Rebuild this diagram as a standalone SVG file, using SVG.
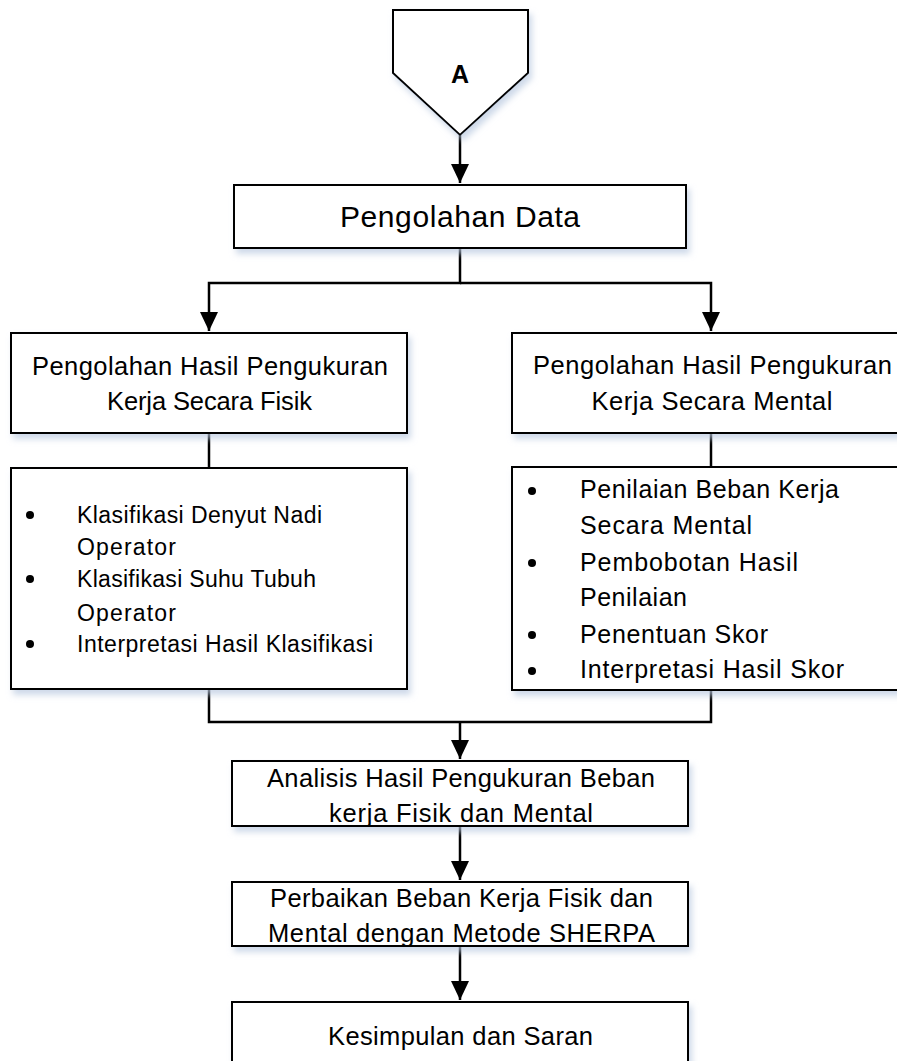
<svg xmlns="http://www.w3.org/2000/svg" width="897" height="1061" viewBox="0 0 897 1061">
<style>
.box{fill:#fff;stroke:#000;stroke-width:2;filter:url(#sh)}
.ln{fill:none;stroke:#000;stroke-width:2.5}
text{font-family:"Liberation Sans",Arial,sans-serif;fill:#000}
.h{font-size:25.5px;text-anchor:middle}
.l{font-size:23px}
.r{font-size:25px}
.t{font-size:25.5px;text-anchor:middle}
</style>
<defs>
<filter id="sh" x="-10%" y="-10%" width="125%" height="135%">
<feGaussianBlur in="SourceAlpha" stdDeviation="3"/>
<feOffset dx="3" dy="5" result="b"/>
<feFlood flood-color="#b9c9e0" flood-opacity="0.7"/>
<feComposite in2="b" operator="in"/>
<feMerge><feMergeNode/><feMergeNode in="SourceGraphic"/></feMerge>
</filter>
<marker id="ah" markerUnits="userSpaceOnUse" markerWidth="20" markerHeight="18" refX="19" refY="9" orient="auto">
<path d="M0,0 L19,9 L0,18 Z" fill="#000"/>
</marker>
</defs>
<g id="connectors">
<path class="ln" d="M460,135 V183" marker-end="url(#ah)"/>
<path class="ln" d="M460,248 V283 H209 V331" marker-end="url(#ah)"/>
<path class="ln" d="M460,283 H711 V331" marker-end="url(#ah)"/>
<path class="ln" d="M209,433 V468"/>
<path class="ln" d="M711,433 V467"/>
<path class="ln" d="M209,689 V722 H711 V690"/>
<path class="ln" d="M460,722 V759" marker-end="url(#ah)"/>
<path class="ln" d="M460,826 V880" marker-end="url(#ah)"/>
<path class="ln" d="M460,946 V1000" marker-end="url(#ah)"/>
</g>
<g id="nodeA">
<polygon class="box" points="393,10 528,10 528,73 460,135 393,73"/>
<text x="460" y="83" style="font-size:25px;font-weight:bold;text-anchor:middle">A</text>
</g>
<g id="pengolahan-data">
<rect class="box" x="234" y="185" width="452" height="63"/>
<text x="460" y="227" style="font-size:30px;text-anchor:middle" textLength="240">Pengolahan Data</text>
</g>
<g id="fisik">
<rect class="box" x="11" y="333" width="396" height="100"/>
<text class="h" x="210" y="375" textLength="356">Pengolahan Hasil Pengukuran</text>
<text class="h" x="209.5" y="410" textLength="205">Kerja Secara Fisik</text>
</g>
<g id="mental">
<rect class="box" x="512" y="333" width="400" height="100"/>
<text class="h" x="712.5" y="374" textLength="359">Pengolahan Hasil Pengukuran</text>
<text class="h" x="712" y="410" textLength="241">Kerja Secara Mental</text>
</g>
<g id="fisik-list">
<rect class="box" x="11" y="468" width="396" height="221"/>
<circle cx="30" cy="515" r="4"/>
<circle cx="30" cy="579" r="4"/>
<circle cx="30" cy="644" r="4"/>
<text class="l" x="77" y="523" textLength="245">Klasifikasi Denyut Nadi</text>
<text class="l" x="77" y="555" textLength="99">Operator</text>
<text class="l" x="77" y="587" textLength="239">Klasifikasi Suhu Tubuh</text>
<text class="l" x="77" y="621" textLength="99">Operator</text>
<text class="l" x="77" y="652" textLength="296">Interpretasi Hasil Klasifikasi</text>
</g>
<g id="mental-list">
<rect class="box" x="512" y="467" width="400" height="223"/>
<circle cx="532" cy="491" r="4"/>
<circle cx="532" cy="563" r="4"/>
<circle cx="532" cy="635" r="4"/>
<circle cx="532" cy="671" r="4"/>
<text class="r" x="580" y="498" textLength="259">Penilaian Beban Kerja</text>
<text class="r" x="580" y="534" textLength="172">Secara Mental</text>
<text class="r" x="580" y="571" textLength="218">Pembobotan Hasil</text>
<text class="r" x="580" y="606" textLength="107">Penilaian</text>
<text class="r" x="580" y="643" textLength="188">Penentuan Skor</text>
<text class="r" x="580" y="678" textLength="264">Interpretasi Hasil Skor</text>
</g>
<g id="analisis">
<rect class="box" x="232" y="761" width="456" height="65"/>
<text class="t" x="461" y="787" textLength="388">Analisis Hasil Pengukuran Beban</text>
<text class="t" x="461" y="822" textLength="264">kerja Fisik dan Mental</text>
</g>
<g id="perbaikan">
<rect class="box" x="232" y="882" width="456" height="64"/>
<text class="t" x="461.5" y="907" textLength="383">Perbaikan Beban Kerja Fisik dan</text>
<text class="t" x="461.5" y="942" textLength="387">Mental dengan Metode SHERPA</text>
</g>
<g id="kesimpulan">
<rect class="box" x="232" y="1002" width="456" height="80"/>
<text class="t" x="460.5" y="1045" textLength="265">Kesimpulan dan Saran</text>
</g>
</svg>
